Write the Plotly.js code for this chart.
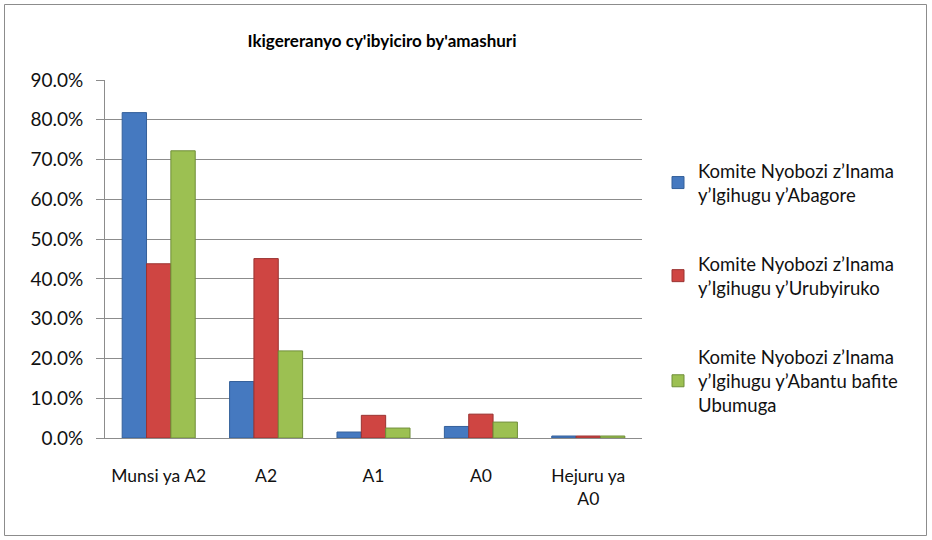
<!DOCTYPE html>
<html>
<head>
<meta charset="utf-8">
<script src="https://cdn.plot.ly/plotly-3.0.1.min.js"></script>
<style>
html,body{margin:0;padding:0;background:#fff;}
#chart{width:932px;height:540px;}
</style>
</head>
<body>
<div id="chart"></div>
<script>
// Data (percent)
const categories = ["Munsi ya A2", "A2", "A1", "A0", "Hejuru ya<br>A0"];
const seriesNames = [
  "Komite Nyobozi z\u2019Inama<br>y\u2019Igihugu y\u2019Abagore",
  "Komite Nyobozi z\u2019Inama<br>y\u2019Igihugu y\u2019Urubyiruko",
  "Komite Nyobozi z\u2019Inama<br>y\u2019Igihugu y\u2019Abantu bafite<br>Ubumuga"
];
const abagore    = [81.8, 14.2, 1.5, 2.9, 0.5];
const urubyiruko = [43.8, 45.1, 5.7, 6.0, 0.5];
const ubumuga    = [72.2, 21.9, 2.5, 4.0, 0.5];
const yTicks = [0, 10, 20, 30, 40, 50, 60, 70, 80, 90];

const colors = ["#4579C0", "#CF4542", "#9CC052"];
const lineColors = ["#34609A", "#9A3331", "#6F8E38"];
const seriesValues = [abagore, urubyiruko, ubumuga];

const W = 932, H = 540;
const M = {l: 105, r: 290, t: 80, b: 102};
const pw = W - M.l - M.r, ph = H - M.t - M.b;
const px = v => (v - M.l) / pw;
const py = v => (H - M.b - v) / ph;

const traces = seriesValues.map((vals, i) => ({
  type: "bar",
  name: seriesNames[i],
  x: categories,
  y: vals,
  legendgroup: "g" + i,
  marker: {color: colors[i], line: {color: lineColors[i], width: 1}},
  hoverinfo: "skip"
}));

const font = "Lato, 'Open Sans', sans-serif";

const layout = {
  width: W, height: H,
  margin: M,
  paper_bgcolor: "#ffffff",
  plot_bgcolor: "#ffffff",
  font: {family: font, size: 17, color: "#111"},
  title: {
    text: "<b>Ikigereranyo cy'ibyiciro by'amashuri</b>",
    font: {family: font, size: 17, color: "#000"},
    xref: "paper", x: px(382), xanchor: "center",
    yref: "container", y: 1 - 41 / H, yanchor: "middle"
  },
  barmode: "group",
  bargap: 0.32,
  bargroupgap: 0,
  showlegend: true,
  legend: {
    x: px(658), xanchor: "left",
    y: py(152), yanchor: "top",
    font: {family: font, size: 18.5, color: "#111"},
    tracegroupgap: 42,
    itemwidth: 30,
    bgcolor: "rgba(0,0,0,0)"
  },
  xaxis: {
    type: "category",
    showgrid: false,
    showline: true, linecolor: "#8c8c8c", linewidth: 1,
    ticks: "", ticklabelstandoff: 22,
    tickfont: {family: font, size: 17.5, color: "#111"},
    fixedrange: true
  },
  yaxis: {
    range: [0, 90],
    tickvals: yTicks,
    ticktext: yTicks.map(v => v.toFixed(1) + "%"),
    showgrid: true, gridcolor: "#8c8c8c", gridwidth: 1,
    showline: true, linecolor: "#8c8c8c", linewidth: 1,
    ticks: "outside", ticklen: 8, tickcolor: "#8c8c8c",
    ticklabelstandoff: 9,
    tickfont: {family: font, size: 19, color: "#111"},
    zeroline: false,
    fixedrange: true
  },
  shapes: [{
    type: "rect", xref: "paper", yref: "paper",
    x0: px(4.5), x1: px(926.5), y0: py(535.5), y1: py(4.5),
    line: {color: "#8c8c8c", width: 1}, fillcolor: "rgba(0,0,0,0)", layer: "below"
  }]
};

Plotly.newPlot("chart", traces, layout, {displayModeBar: false, staticPlot: true});
</script>
</body>
</html>
